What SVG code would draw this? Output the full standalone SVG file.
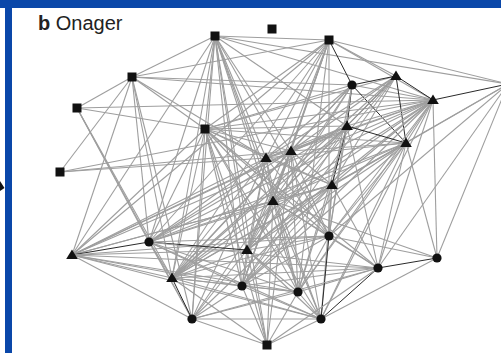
<svg xmlns="http://www.w3.org/2000/svg" width="501" height="353" viewBox="0 0 501 353">
<style>
.e line{stroke:#9e9e9e;stroke-width:1.1;fill:none}
.e line.d{stroke:#2a2a2a;stroke-width:1}
.n{fill:#111}
.t{font-family:"Liberation Sans",Arial,sans-serif;font-size:20px;fill:#222}
</style>
<defs>
<rect id="sq" x="-4.5" y="-4.5" width="9" height="9"/>
<circle id="ci" r="4.6"/>
<polygon id="tr" points="0,-5.5 5.8,4 -5.8,4"/>
</defs>
<rect width="501" height="353" fill="#fff"/>
<rect x="0" y="0" width="501" height="8" fill="#0a47a9"/>
<rect x="5" y="8" width="7" height="345" fill="#0a47a9"/>
<polygon points="0,181 4.5,188 0,191" fill="#111"/>
<text class="t" x="38" y="30"><tspan font-weight="bold">b</tspan> Onager</text>
<g class="e" id="connectors">
<!-- S1 -->
<line x1="215" y1="36" x2="329" y2="40"/><line x1="215" y1="36" x2="132" y2="77"/><line x1="215" y1="36" x2="508" y2="84"/><line x1="215" y1="36" x2="433" y2="100"/><line x1="215" y1="36" x2="205" y2="129"/><line x1="215" y1="36" x2="72" y2="255"/><line x1="215" y1="36" x2="149" y2="242"/><line x1="215" y1="36" x2="172" y2="278"/><line x1="215" y1="36" x2="192" y2="319"/><line x1="215" y1="36" x2="242" y2="286"/><line x1="215" y1="36" x2="267" y2="345"/><line x1="215" y1="36" x2="247" y2="250"/><line x1="215" y1="36" x2="298" y2="292"/><line x1="215" y1="36" x2="321" y2="319"/><line x1="215" y1="36" x2="273" y2="201"/><line x1="215" y1="36" x2="266" y2="158"/><line x1="215" y1="36" x2="329" y2="236"/><line x1="215" y1="36" x2="291" y2="151"/><line x1="215" y1="36" x2="347" y2="126"/>
<!-- S3 -->
<line class="d" x1="329" y1="40" x2="352" y2="85"/><line x1="329" y1="40" x2="132" y2="77"/><line x1="329" y1="40" x2="508" y2="84"/><line x1="329" y1="40" x2="396" y2="76"/><line x1="329" y1="40" x2="433" y2="100"/><line x1="329" y1="40" x2="205" y2="129"/><line x1="329" y1="40" x2="291" y2="151"/><line x1="329" y1="40" x2="266" y2="158"/><line x1="329" y1="40" x2="273" y2="201"/><line x1="329" y1="40" x2="247" y2="250"/><line x1="329" y1="40" x2="242" y2="286"/><line x1="329" y1="40" x2="172" y2="278"/><line x1="329" y1="40" x2="149" y2="242"/><line x1="329" y1="40" x2="329" y2="236"/><line x1="329" y1="40" x2="298" y2="292"/><line x1="329" y1="40" x2="72" y2="255"/>
<!-- S4 -->
<line x1="132" y1="77" x2="77" y2="108"/><line x1="132" y1="77" x2="60" y2="172"/><line x1="132" y1="77" x2="352" y2="85"/><line x1="132" y1="77" x2="205" y2="129"/><line x1="132" y1="77" x2="72" y2="255"/><line x1="132" y1="77" x2="149" y2="242"/><line x1="132" y1="77" x2="172" y2="278"/><line x1="132" y1="77" x2="192" y2="319"/><line x1="132" y1="77" x2="266" y2="158"/><line x1="132" y1="77" x2="433" y2="100"/>
<!-- S5 -->
<line x1="77" y1="108" x2="205" y2="129"/><line x1="77" y1="108" x2="149" y2="242"/><line x1="77" y1="108" x2="172" y2="278"/><line x1="77" y1="108" x2="192" y2="319"/><line x1="77" y1="108" x2="433" y2="100"/>
<!-- S6 -->
<line x1="205" y1="129" x2="352" y2="85"/><line x1="205" y1="129" x2="396" y2="76"/><line x1="205" y1="129" x2="433" y2="100"/><line x1="205" y1="129" x2="347" y2="126"/><line x1="205" y1="129" x2="406" y2="143"/><line x1="205" y1="129" x2="291" y2="151"/><line x1="205" y1="129" x2="266" y2="158"/><line x1="205" y1="129" x2="332" y2="185"/><line x1="205" y1="129" x2="273" y2="201"/><line x1="205" y1="129" x2="247" y2="250"/><line x1="205" y1="129" x2="149" y2="242"/><line x1="205" y1="129" x2="72" y2="255"/><line x1="205" y1="129" x2="172" y2="278"/><line x1="205" y1="129" x2="192" y2="319"/><line x1="205" y1="129" x2="242" y2="286"/><line x1="205" y1="129" x2="267" y2="345"/><line x1="205" y1="129" x2="298" y2="292"/><line x1="205" y1="129" x2="321" y2="319"/><line x1="205" y1="129" x2="329" y2="236"/><line x1="205" y1="129" x2="378" y2="268"/>
<!-- S7 -->
<line x1="60" y1="172" x2="291" y2="151"/><line x1="60" y1="172" x2="266" y2="158"/><line x1="60" y1="172" x2="433" y2="100"/>
<!-- C1 -->
<line class="d" x1="352" y1="85" x2="396" y2="76"/><line x1="352" y1="85" x2="433" y2="100"/><line class="d" x1="352" y1="85" x2="347" y2="126"/><line class="d" x1="352" y1="85" x2="406" y2="143"/><line x1="352" y1="85" x2="291" y2="151"/><line x1="352" y1="85" x2="266" y2="158"/><line x1="352" y1="85" x2="332" y2="185"/><line x1="352" y1="85" x2="273" y2="201"/><line x1="352" y1="85" x2="247" y2="250"/><line x1="352" y1="85" x2="329" y2="236"/><line x1="352" y1="85" x2="172" y2="278"/>
<!-- T1 -->
<line class="d" x1="396" y1="76" x2="433" y2="100"/><line class="d" x1="396" y1="76" x2="406" y2="143"/><line class="d" x1="396" y1="76" x2="347" y2="126"/><line x1="396" y1="76" x2="291" y2="151"/><line x1="396" y1="76" x2="266" y2="158"/><line x1="396" y1="76" x2="332" y2="185"/><line x1="396" y1="76" x2="273" y2="201"/><line x1="396" y1="76" x2="247" y2="250"/><line x1="396" y1="76" x2="242" y2="286"/><line x1="396" y1="76" x2="172" y2="278"/>
<!-- T2 -->
<line class="d" x1="433" y1="100" x2="508" y2="84"/><line x1="433" y1="100" x2="347" y2="126"/><line x1="433" y1="100" x2="406" y2="143"/><line x1="433" y1="100" x2="291" y2="151"/><line x1="433" y1="100" x2="266" y2="158"/><line x1="433" y1="100" x2="332" y2="185"/><line x1="433" y1="100" x2="273" y2="201"/><line x1="433" y1="100" x2="247" y2="250"/><line x1="433" y1="100" x2="329" y2="236"/><line x1="433" y1="100" x2="378" y2="268"/><line x1="433" y1="100" x2="437" y2="258"/><line x1="433" y1="100" x2="321" y2="319"/><line x1="433" y1="100" x2="298" y2="292"/><line x1="433" y1="100" x2="242" y2="286"/><line x1="433" y1="100" x2="172" y2="278"/><line x1="433" y1="100" x2="149" y2="242"/><line x1="433" y1="100" x2="72" y2="255"/>
<!-- T3 -->
<line class="d" x1="347" y1="126" x2="406" y2="143"/><line x1="347" y1="126" x2="291" y2="151"/><line x1="347" y1="126" x2="266" y2="158"/><line class="d" x1="347" y1="126" x2="332" y2="185"/><line x1="347" y1="126" x2="273" y2="201"/><line x1="347" y1="126" x2="247" y2="250"/><line x1="347" y1="126" x2="329" y2="236"/><line x1="347" y1="126" x2="378" y2="268"/><line x1="347" y1="126" x2="298" y2="292"/><line x1="347" y1="126" x2="242" y2="286"/><line x1="347" y1="126" x2="172" y2="278"/><line x1="347" y1="126" x2="149" y2="242"/><line x1="347" y1="126" x2="72" y2="255"/>
<!-- T4 -->
<line x1="406" y1="143" x2="291" y2="151"/><line x1="406" y1="143" x2="266" y2="158"/><line x1="406" y1="143" x2="332" y2="185"/><line x1="406" y1="143" x2="273" y2="201"/><line x1="406" y1="143" x2="247" y2="250"/><line x1="406" y1="143" x2="329" y2="236"/><line x1="406" y1="143" x2="378" y2="268"/><line x1="406" y1="143" x2="437" y2="258"/><line x1="406" y1="143" x2="298" y2="292"/><line x1="406" y1="143" x2="321" y2="319"/><line x1="406" y1="143" x2="242" y2="286"/><line x1="406" y1="143" x2="172" y2="278"/><line x1="406" y1="143" x2="149" y2="242"/>
<!-- T5 -->
<line x1="291" y1="151" x2="266" y2="158"/><line x1="291" y1="151" x2="332" y2="185"/><line x1="291" y1="151" x2="273" y2="201"/><line x1="291" y1="151" x2="247" y2="250"/><line x1="291" y1="151" x2="329" y2="236"/><line x1="291" y1="151" x2="242" y2="286"/><line x1="291" y1="151" x2="298" y2="292"/><line x1="291" y1="151" x2="321" y2="319"/><line x1="291" y1="151" x2="172" y2="278"/><line x1="291" y1="151" x2="149" y2="242"/><line x1="291" y1="151" x2="72" y2="255"/><line x1="291" y1="151" x2="267" y2="345"/>
<!-- T6 -->
<line x1="266" y1="158" x2="332" y2="185"/><line x1="266" y1="158" x2="273" y2="201"/><line x1="266" y1="158" x2="247" y2="250"/><line x1="266" y1="158" x2="329" y2="236"/><line x1="266" y1="158" x2="242" y2="286"/><line x1="266" y1="158" x2="298" y2="292"/><line x1="266" y1="158" x2="172" y2="278"/><line x1="266" y1="158" x2="149" y2="242"/><line x1="266" y1="158" x2="72" y2="255"/><line x1="266" y1="158" x2="192" y2="319"/>
<!-- T7 -->
<line x1="332" y1="185" x2="273" y2="201"/><line x1="332" y1="185" x2="247" y2="250"/><line x1="332" y1="185" x2="329" y2="236"/><line x1="332" y1="185" x2="378" y2="268"/><line x1="332" y1="185" x2="242" y2="286"/><line x1="332" y1="185" x2="298" y2="292"/><line x1="332" y1="185" x2="321" y2="319"/><line x1="332" y1="185" x2="172" y2="278"/><line x1="332" y1="185" x2="149" y2="242"/><line x1="332" y1="185" x2="72" y2="255"/><line x1="332" y1="185" x2="192" y2="319"/>
<!-- T8 -->
<line x1="273" y1="201" x2="247" y2="250"/><line x1="273" y1="201" x2="329" y2="236"/><line x1="273" y1="201" x2="242" y2="286"/><line x1="273" y1="201" x2="298" y2="292"/><line x1="273" y1="201" x2="321" y2="319"/><line x1="273" y1="201" x2="172" y2="278"/><line x1="273" y1="201" x2="149" y2="242"/><line x1="273" y1="201" x2="72" y2="255"/><line x1="273" y1="201" x2="192" y2="319"/><line x1="273" y1="201" x2="267" y2="345"/><line x1="273" y1="201" x2="378" y2="268"/><line x1="273" y1="201" x2="437" y2="258"/>
<!-- X -->
<line x1="508" y1="84" x2="437" y2="258"/><line x1="508" y1="84" x2="378" y2="268"/><line x1="508" y1="84" x2="329" y2="236"/><line x1="508" y1="84" x2="332" y2="185"/><line x1="508" y1="84" x2="406" y2="143"/>
<!-- T9 -->
<line class="d" x1="72" y1="255" x2="149" y2="242"/><line x1="72" y1="255" x2="172" y2="278"/><line x1="72" y1="255" x2="247" y2="250"/><line x1="72" y1="255" x2="242" y2="286"/><line x1="72" y1="255" x2="298" y2="292"/><line x1="72" y1="255" x2="329" y2="236"/><line x1="72" y1="255" x2="192" y2="319"/><line x1="72" y1="255" x2="321" y2="319"/><line x1="72" y1="255" x2="378" y2="268"/>
<!-- C2 -->
<line x1="149" y1="242" x2="172" y2="278"/><line class="d" x1="149" y1="242" x2="247" y2="250"/><line x1="149" y1="242" x2="242" y2="286"/><line x1="149" y1="242" x2="298" y2="292"/><line x1="149" y1="242" x2="329" y2="236"/><line x1="149" y1="242" x2="192" y2="319"/><line x1="149" y1="242" x2="321" y2="319"/><line x1="149" y1="242" x2="378" y2="268"/>
<!-- T10 -->
<line x1="172" y1="278" x2="247" y2="250"/><line x1="172" y1="278" x2="242" y2="286"/><line class="d" x1="172" y1="278" x2="192" y2="319"/><line x1="172" y1="278" x2="298" y2="292"/><line x1="172" y1="278" x2="329" y2="236"/><line x1="172" y1="278" x2="321" y2="319"/><line x1="172" y1="278" x2="378" y2="268"/><line x1="172" y1="278" x2="267" y2="345"/>
<!-- T11 -->
<line x1="247" y1="250" x2="242" y2="286"/><line x1="247" y1="250" x2="298" y2="292"/><line x1="247" y1="250" x2="329" y2="236"/><line x1="247" y1="250" x2="192" y2="319"/><line x1="247" y1="250" x2="321" y2="319"/><line x1="247" y1="250" x2="267" y2="345"/>
<!-- C6 -->
<line x1="242" y1="286" x2="298" y2="292"/><line x1="242" y1="286" x2="192" y2="319"/><line x1="242" y1="286" x2="321" y2="319"/><line x1="242" y1="286" x2="267" y2="345"/><line x1="242" y1="286" x2="329" y2="236"/><line x1="242" y1="286" x2="378" y2="268"/>
<!-- C7 -->
<line x1="298" y1="292" x2="321" y2="319"/><line x1="298" y1="292" x2="267" y2="345"/><line x1="298" y1="292" x2="192" y2="319"/><line x1="298" y1="292" x2="329" y2="236"/><line x1="298" y1="292" x2="378" y2="268"/>
<!-- rest -->
<line class="d" x1="329" y1="236" x2="321" y2="319"/><line x1="329" y1="236" x2="378" y2="268"/><line x1="329" y1="236" x2="437" y2="258"/>
<line class="d" x1="378" y1="268" x2="437" y2="258"/><line class="d" x1="378" y1="268" x2="321" y2="319"/><line x1="378" y1="268" x2="267" y2="345"/><line x1="378" y1="268" x2="192" y2="319"/>
<line x1="437" y1="258" x2="321" y2="319"/><line x1="321" y1="319" x2="267" y2="345"/><line x1="192" y1="319" x2="267" y2="345"/><line x1="192" y1="319" x2="321" y2="319"/>
</g>
<g id="S1" class="n"><use href="#sq" x="215" y="36"/></g>
<g id="S2" class="n"><use href="#sq" x="272" y="29"/></g>
<g id="S3" class="n"><use href="#sq" x="329" y="40"/></g>
<g id="S4" class="n"><use href="#sq" x="132" y="77"/></g>
<g id="S5" class="n"><use href="#sq" x="77" y="108"/></g>
<g id="S6" class="n"><use href="#sq" x="205" y="129"/></g>
<g id="S7" class="n"><use href="#sq" x="60" y="172"/></g>
<g id="S8" class="n"><use href="#sq" x="267" y="345"/></g>
<g id="C1" class="n"><use href="#ci" x="352" y="85"/></g>
<g id="C2" class="n"><use href="#ci" x="149" y="242"/></g>
<g id="C3" class="n"><use href="#ci" x="329" y="236"/></g>
<g id="C4" class="n"><use href="#ci" x="378" y="268"/></g>
<g id="C5" class="n"><use href="#ci" x="437" y="258"/></g>
<g id="C6" class="n"><use href="#ci" x="242" y="286"/></g>
<g id="C7" class="n"><use href="#ci" x="298" y="292"/></g>
<g id="C8" class="n"><use href="#ci" x="192" y="319"/></g>
<g id="C9" class="n"><use href="#ci" x="321" y="319"/></g>
<g id="T1" class="n"><use href="#tr" x="396" y="76"/></g>
<g id="T2" class="n"><use href="#tr" x="433" y="100"/></g>
<g id="T3" class="n"><use href="#tr" x="347" y="126"/></g>
<g id="T4" class="n"><use href="#tr" x="406" y="143"/></g>
<g id="T5" class="n"><use href="#tr" x="291" y="151"/></g>
<g id="T6" class="n"><use href="#tr" x="266" y="158"/></g>
<g id="T7" class="n"><use href="#tr" x="332" y="185"/></g>
<g id="T8" class="n"><use href="#tr" x="273" y="201"/></g>
<g id="T9" class="n"><use href="#tr" x="72" y="255"/></g>
<g id="T10" class="n"><use href="#tr" x="172" y="278"/></g>
<g id="T11" class="n"><use href="#tr" x="247" y="250"/></g>
</svg>
